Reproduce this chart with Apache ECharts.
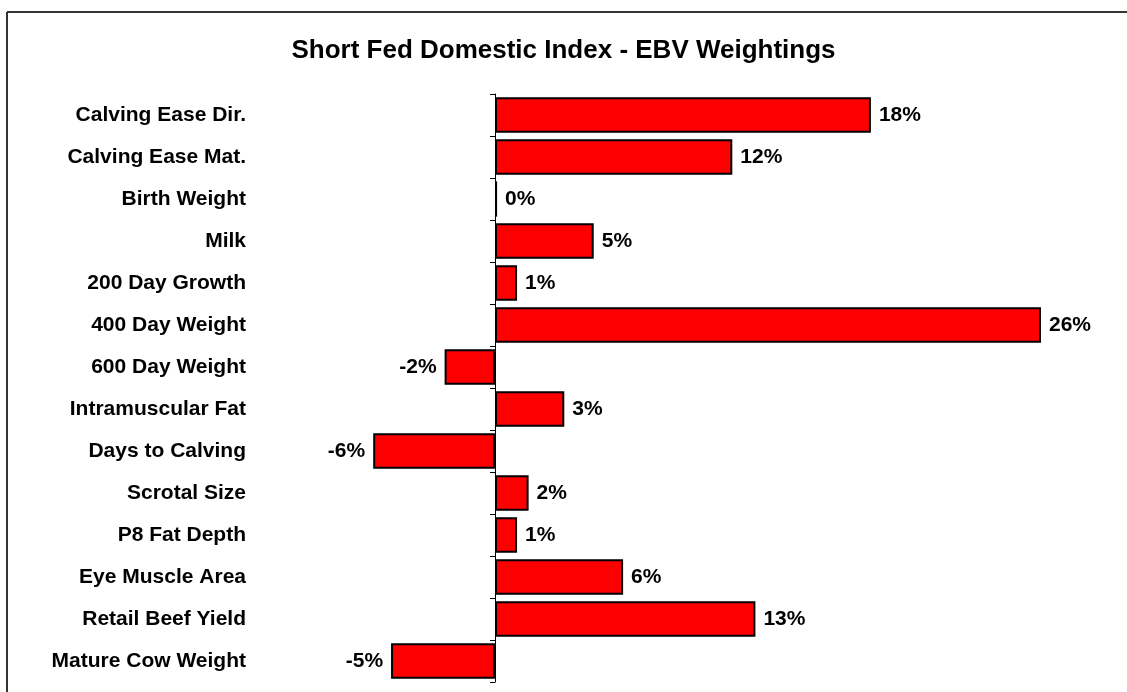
<!DOCTYPE html>
<html>
<head>
<meta charset="utf-8">
<script src="https://cdn.jsdelivr.net/npm/echarts@6/dist/echarts.min.js"></script>
<style>
  html, body { margin: 0; padding: 0; background: #fff; }
  #main { width: 1127px; height: 692px; }
</style>
</head>
<body>
<div id="main"></div>
<script>
var categories = ['Calving Ease Dir.', 'Calving Ease Mat.', 'Birth Weight', 'Milk', '200 Day Growth',
  '400 Day Weight', '600 Day Weight', 'Intramuscular Fat', 'Days to Calving', 'Scrotal Size',
  'P8 Fat Depth', 'Eye Muscle Area', 'Retail Beef Yield', 'Mature Cow Weight'];
// bar lengths (percent)
var weights = [17.9, 11.3, 0.1, 4.7, 1.05, 26, -2.4, 3.3, -5.8, 1.6, 1.05, 6.1, 12.4, -4.95];
// percentages printed beside each bar
var weightLabels = ['18%', '12%', '0%', '5%', '1%', '26%', '-2%', '3%', '-6%', '2%', '1%', '6%', '13%', '-5%'];

var myChart = echarts.init(document.getElementById('main'));

var barData = weights.map(function (v, i) {
  return {
    value: v,
    label: { position: v < 0 ? 'left' : 'right', formatter: weightLabels[i] }
  };
});

var option = {
  animation: false,
  title: {
    text: 'Short Fed Domestic Index - EBV Weightings',
    left: 'center',
    top: 33,
    textStyle: { fontFamily: 'Liberation Sans', fontSize: 26, fontWeight: 'bold', color: '#000' }
  },
  graphic: [
    { type: 'line', shape: { x1: 7, y1: 12, x2: 1127, y2: 12 }, style: { stroke: '#333', lineWidth: 2 } },
    { type: 'line', shape: { x1: 7, y1: 12, x2: 7, y2: 692 }, style: { stroke: '#333', lineWidth: 2 } }
  ],
  grid: { left: 285, right: 2, top: 94, bottom: 10, outerBoundsMode: 'none', containLabel: false },
  xAxis: {
    type: 'value',
    min: -10,
    max: 30,
    show: false
  },
  yAxis: {
    type: 'category',
    inverse: true,
    data: categories,
    axisLine: { onZero: true, lineStyle: { color: '#000', width: 1 } },
    axisTick: { show: true, length: 5, lineStyle: { color: '#000' } },
    axisLabel: {
      margin: 39,
      fontFamily: 'Liberation Sans',
      fontSize: 21,
      fontWeight: 'bold',
      color: '#000'
    },
    splitLine: { show: false }
  },
  series: [
    {
      type: 'bar',
      data: barData,
      barCategoryGap: '16%',
      itemStyle: { color: '#ff0000', borderColor: '#000', borderWidth: 2 },
      label: {
        show: true,
        distance: 8,
        fontFamily: 'Liberation Sans',
        fontSize: 21,
        fontWeight: 'bold',
        color: '#000'
      }
    }
  ]
};

myChart.setOption(option);
</script>
</body>
</html>
